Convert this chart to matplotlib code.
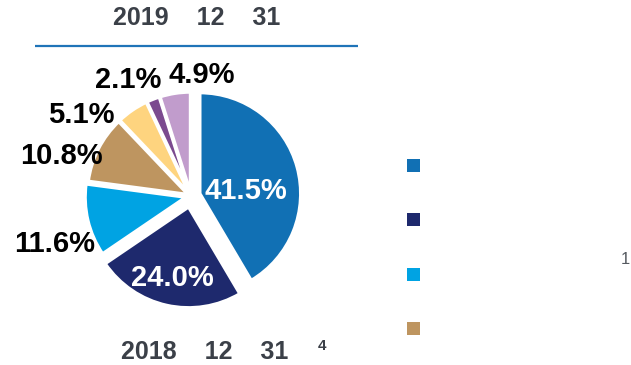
import matplotlib.pyplot as plt
from matplotlib.patches import Rectangle
import numpy as np

plt.rcParams['font.family'] = ['Liberation Sans', 'DejaVu Sans']

# 各类占比（%）
shares = [41.5, 24.0, 11.6, 10.8, 5.1, 2.1, 4.9]
labels = ['41.5%', '24.0%', '11.6%', '10.8%', '5.1%', '2.1%', '4.9%']
colors = ['#1170b4', '#1e296d', '#00a3e3', '#be9560', '#fed47f', '#7b4a8f', '#c19ccc']
legend_colors = colors[:4]
title_top = '2019    12    31'
title_bottom = '2018    12    31'

W, H = 631, 365
fig = plt.figure(figsize=(W / 100, H / 100), dpi=100)
ax = fig.add_axes([0, 0, 1, 1])

# 饼图中心和半径（像素坐标，y 向上）
cx, cy, r = 191, H - 196, 101
# explode 不随 radius 缩放，这里乘上半径
explode = [e * r for e in [0.09, 0.11, 0.05, 0.03, 0.03, 0.03, 0.03]]

wedges, _ = ax.pie(shares, colors=colors, startangle=90, counterclock=False,
                   explode=explode, center=(cx, cy), radius=r,
                   wedgeprops=dict(edgecolor='white', linewidth=2.5))

# 标签：前两块在扇区内（白字），其余在外（黑字）
label_dist = [0.55, 0.83, 1.43, 1.34, 1.35, 1.31, 1.2]
label_shift = [-10, 0, 6, 10, 19, 7, -14]  # 角度微调
for w, lab, d, sh, i in zip(wedges, labels, label_dist, label_shift, range(len(labels))):
    ang = np.deg2rad((w.theta1 + w.theta2) / 2 + sh)
    x = cx + d * r * np.cos(ang)
    y = cy + d * r * np.sin(ang)
    ax.text(x, y, lab, ha='center', va='center', fontsize=21, fontweight='bold',
            color='white' if i < 2 else 'black')

ax.set_xlim(0, W)
ax.set_ylim(0, H)
ax.set_aspect('equal')
ax.axis('off')

# 标题和分隔线
ax.text(196.5, H - 18, title_top, ha='center', va='center', fontsize=18,
        fontweight='bold', color='#3b4048')
ax.plot([35, 358], [H - 46, H - 46], color='#1f74b8', lw=1.6, solid_capstyle='butt')

ax.text(204.5, H - 352, title_bottom, ha='center', va='center', fontsize=18,
        fontweight='bold', color='#3b4048')
ax.text(322.5, H - 346, '4', ha='center', va='center', fontsize=11,
        fontweight='bold', color='#3b4048')

# 图例色块
for i, c in enumerate(legend_colors):
    y0 = H - 172 - i * 54.3
    ax.add_patch(Rectangle((407, y0), 13, 13, facecolor=c, edgecolor='none'))

ax.text(625, H - 260, '1', ha='center', va='center', fontsize=12, color='#555a60')

fig.savefig('out.png', dpi=100)
